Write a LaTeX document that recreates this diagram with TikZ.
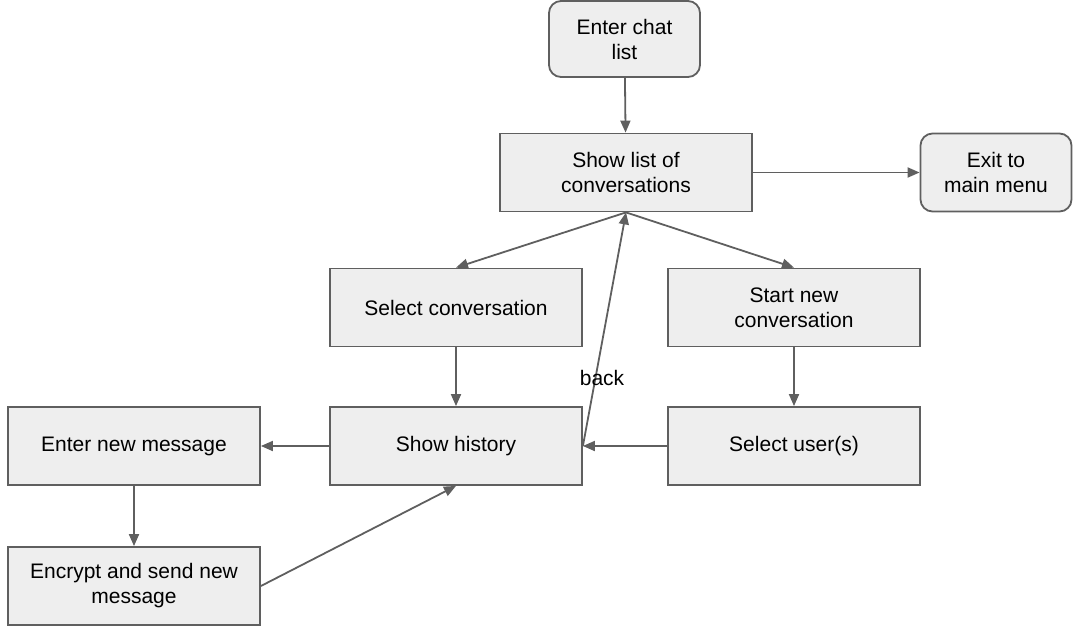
\documentclass[tikz,border=0pt]{standalone}
\usepackage{fontspec}
\setmainfont{Liberation Sans}
\usetikzlibrary{arrows.meta}
\definecolor{boxfill}{HTML}{EEEEEE}
\definecolor{linegray}{HTML}{5F5F5F}
\begin{document}
\begin{tikzpicture}[x=1pt,y=-1pt,
  stepbox/.style={draw=linegray, fill=boxfill, line width=1.8pt, minimum width=252pt, minimum height=78pt, align=center, inner sep=2pt, font=\fontsize{21}{25}\selectfont},
  roundbox/.style={stepbox, rounded corners=12pt, minimum width=151pt},
  conn/.style={draw=linegray, line width=1.8pt, -{Triangle[length=12pt,width=10pt]}},
  lbl/.style={font=\fontsize{21}{25}\selectfont, inner sep=0pt}
]
\useasboundingbox (0,0) rectangle (1077,627);
\node[roundbox, minimum height=76pt] (chat) at (624.5,39) {Enter chat\\list};
\node[stepbox] (list) at (626,172.5) {Show list of\\conversations};
\node[roundbox] (exit) at (996,172.5) {Exit to\\main menu};
\node[stepbox] (selconv) at (456,307.5) {Select conversation};
\node[stepbox] (startnew) at (794,307.5) {Start new\\conversation};
\node[stepbox] (history) at (456,446) {Show history};
\node[stepbox] (users) at (794,446) {Select user(s)};
\node[stepbox] (enter) at (134,446) {Enter new message};
\node[stepbox] (encrypt) at (134,586) {Encrypt and send new\\message};

\draw[conn] (chat) -- (list);
\draw[conn] (list) -- (exit);
\draw[conn] (list.south) -- (selconv.north);
\draw[conn] (list.south) -- (startnew.north);
\draw[conn] (selconv) -- (history);
\draw[conn] (startnew) -- (users);
\draw[conn] (users) -- (history);
\draw[conn] (history.east) -- (list.south);
\draw[conn] (history) -- (enter);
\draw[conn] (enter) -- (encrypt);
\draw[conn] (encrypt.east) -- (history.south);
\node[lbl] (back) at (602,378) {back};
\end{tikzpicture}
\end{document}
